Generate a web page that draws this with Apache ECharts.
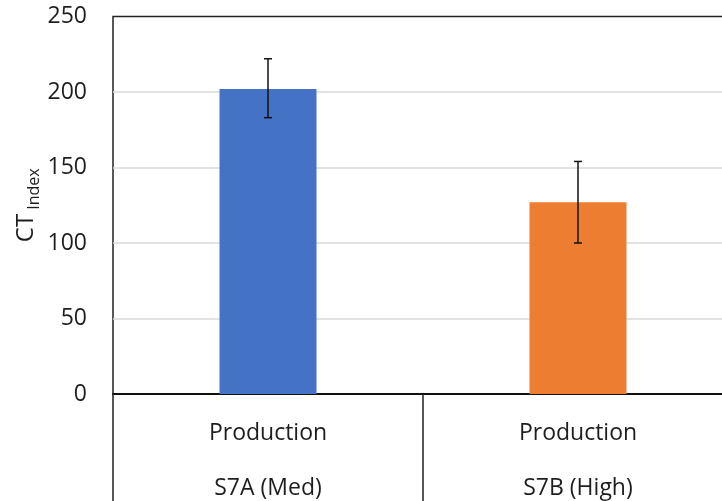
<!DOCTYPE html>
<html>
<head>
<meta charset="utf-8">
<script src="https://cdn.jsdelivr.net/npm/echarts@6/dist/echarts.min.js"></script>
<style>
html,body{margin:0;padding:0;background:#fff;}
#chart{width:722px;height:501px;}
</style>
</head>
<body>
<div id="chart"></div>
<script>
const groupLabels = ['Production', 'Production'];
const categories = ['S7A (Med)', 'S7B (High)'];
const values = [202, 127];
const errLow = [183, 100];
const errHigh = [222, 154];
const barColors = ['#4472C4', '#ED7D31'];
const yTicks = [0, 50, 100, 150, 200, 250];

const FONT = '"Open Sans", sans-serif';
const chart = echarts.init(document.getElementById('chart'), null, {renderer: 'canvas'});

const errData = categories.map((c, i) => [i, errLow[i], errHigh[i]]);

chart.setOption({
  animation: false,
  backgroundColor: '#fff',
  grid: {
    left: 113, top: 16.5, right: -11, bottom: 107,
    containLabel: false,
    outerBoundsMode: 'none',
    show: true, borderColor: '#222', borderWidth: 1.5, backgroundColor: 'transparent'
  },
  xAxis: {
    type: 'category',
    data: categories,
    axisLine: {lineStyle: {color: '#111', width: 2}},
    axisTick: {show: true, alignWithLabel: false, length: 115, lineStyle: {color: '#222', width: 1.5}},
    axisLabel: {
      margin: 12,
      fontFamily: FONT, fontSize: 23, color: '#1e1e1e', lineHeight: 55,
      formatter: (v, i) => groupLabels[i] + '\n' + v
    },
    splitLine: {show: false}
  },
  yAxis: {
    type: 'value',
    min: yTicks[0], max: yTicks[yTicks.length - 1], interval: 50,
    axisLine: {show: false},
    axisTick: {show: false},
    splitLine: {showMaxLine: false, showMinLine: false, lineStyle: {color: '#d9d9d9', width: 1.5}},
    axisLabel: {fontFamily: FONT, fontSize: 23, color: '#1e1e1e', margin: 26},
    name: '{a|CT}{b| Index}',
    nameLocation: 'middle',
    nameRotate: 90,
    nameGap: 71,
    nameMoveOverlap: false,
    nameTextStyle: {
      rich: {
        a: {fontFamily: FONT, fontSize: 24, color: '#1e1e1e', lineHeight: 32, verticalAlign: 'middle'},
        b: {fontFamily: FONT, fontSize: 16, color: '#1e1e1e', lineHeight: 32, verticalAlign: 'bottom'}
      }
    }
  },
  series: [
    {
      type: 'bar',
      data: values.map((v, i) => ({value: v, itemStyle: {color: barColors[i]}})),
      barWidth: 97,
      z: 2
    },
    {
      type: 'custom',
      data: errData,
      z: 5,
      renderItem: function (params, api) {
        const x = api.value(0);
        const lo = api.coord([x, api.value(1)]);
        const hi = api.coord([x, api.value(2)]);
        const cap = 4;
        const style = {stroke: '#111', lineWidth: 1.5};
        return {
          type: 'group',
          children: [
            {type: 'line', shape: {x1: lo[0], y1: lo[1], x2: hi[0], y2: hi[1]}, style},
            {type: 'line', shape: {x1: hi[0] - cap, y1: hi[1], x2: hi[0] + cap, y2: hi[1]}, style},
            {type: 'line', shape: {x1: lo[0] - cap, y1: lo[1], x2: lo[0] + cap, y2: lo[1]}, style}
          ]
        };
      }
    }
  ]
});
</script>
</body>
</html>
